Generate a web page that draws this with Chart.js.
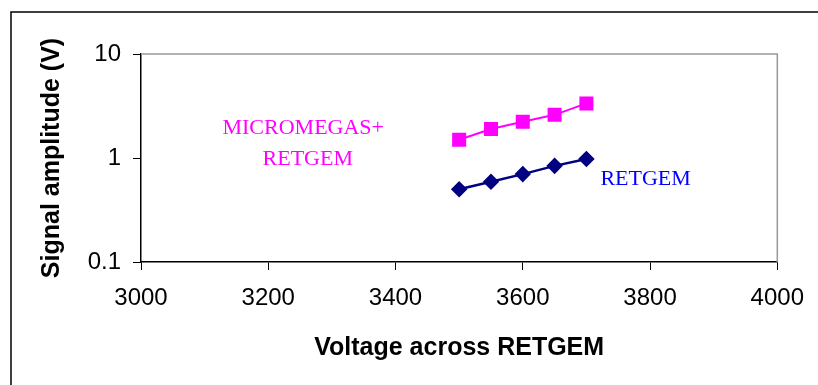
<!DOCTYPE html>
<html>
<head>
<meta charset="utf-8">
<script src="https://cdn.jsdelivr.net/npm/chart.js@4.4.0/dist/chart.umd.min.js"></script>
<style>
  html, body { margin: 0; padding: 0; background: #fff; }
  #wrap { width: 818px; height: 385px; position: relative; }
</style>
</head>
<body>
<div id="wrap"><canvas id="ampChart"></canvas></div>
<script>
// data
const voltages = [3500, 3550, 3600, 3650, 3700];
const micromegasRetgem = [1.5, 1.9, 2.23, 2.6, 3.35];
const retgemOnly = [0.5, 0.59, 0.7, 0.84, 0.98];
const xTicks = [3000, 3200, 3400, 3600, 3800, 4000];
const yTicks = [0.1, 1, 10];

// text labels placed in data units
const notes = [
    { text: 'MICROMEGAS+', x: 3128, y: 1.94, color: '#ff00ff' },
    { text: 'RETGEM', x: 3191, y: 0.978, color: '#ff00ff' },
    { text: 'RETGEM', x: 3722, y: 0.628, color: '#0000ff' }
];

const pairs = (xs, ys) => xs.map((x, i) => ({ x: x, y: ys[i] }));

// outer frame, top/right plot border and the text labels
const extras = {
    id: 'extras',
    beforeDraw(chart) {
        const c = chart.ctx;
        c.save();
        c.fillStyle = '#fff';
        c.fillRect(0, 0, chart.width, chart.height);
        c.restore();
    },
    afterDraw(chart) {
        const c = chart.ctx;
        const a = chart.chartArea;
        const xs = chart.scales.x, ys = chart.scales.y;
        c.save();
        c.strokeStyle = '#000';
        c.lineWidth = 1.5;
        c.beginPath();
        c.moveTo(11, chart.height);
        c.lineTo(11, 12);
        c.lineTo(chart.width, 12);
        c.stroke();

        c.strokeStyle = '#999';
        c.lineWidth = 1.5;
        c.beginPath();
        c.moveTo(a.left, a.top);
        c.lineTo(a.right, a.top);
        c.lineTo(a.right, a.bottom);
        c.stroke();

        c.font = '22px "Liberation Serif", "Times New Roman", serif';
        c.textAlign = 'left';
        c.textBaseline = 'middle';
        notes.forEach(n => {
            c.fillStyle = n.color;
            c.fillText(n.text, xs.getPixelForValue(n.x), ys.getPixelForValue(n.y));
        });
        c.restore();
    }
};

const tickFont = { family: '"Liberation Sans", Arial, sans-serif', size: 24 };
const titleFont = { family: '"Liberation Sans", Arial, sans-serif', size: 25, weight: 'bold' };

new Chart(document.getElementById('ampChart').getContext('2d'), {
    type: 'scatter',
    data: {
        datasets: [
            {
                label: 'MICROMEGAS+RETGEM',
                data: pairs(voltages, micromegasRetgem),
                showLine: true,
                borderColor: '#ff00ff',
                backgroundColor: '#ff00ff',
                borderWidth: 2,
                pointStyle: 'rect',
                pointRadius: 8.5,
                pointHoverRadius: 8.5
            },
            {
                label: 'RETGEM',
                data: pairs(voltages, retgemOnly),
                showLine: true,
                borderColor: '#000080',
                backgroundColor: '#000080',
                borderWidth: 2.5,
                pointStyle: 'rectRot',
                pointRadius: 6.5,
                pointHoverRadius: 6.5
            }
        ]
    },
    options: {
        responsive: true,
        maintainAspectRatio: false,
        animation: false,
        layout: { padding: { left: 0, top: 54, right: 39, bottom: 0 } },
        plugins: { legend: { display: false }, tooltip: { enabled: false } },
        scales: {
            x: {
                type: 'linear',
                min: 3000,
                max: 4000,
                afterBuildTicks: s => { s.ticks = xTicks.map(v => ({ value: v })); },
                afterFit: s => { s.height = 123; },
                grid: { drawOnChartArea: false, drawTicks: true, tickLength: 8, color: '#000' },
                border: { color: '#000', width: 1.5 },
                ticks: { font: tickFont, color: '#000', padding: 14, maxRotation: 0, callback: v => String(v) },
                title: { display: true, text: 'Voltage across RETGEM', font: titleFont, color: '#000', padding: { bottom: 22 } }
            },
            y: {
                type: 'logarithmic',
                min: 0.1,
                max: 10,
                afterBuildTicks: s => { s.ticks = yTicks.map(v => ({ value: v })); },
                afterFit: s => { s.width = 141; },
                grid: { drawOnChartArea: false, drawTicks: true, tickLength: 8, color: '#000' },
                border: { color: '#000', width: 1.5 },
                ticks: { font: tickFont, color: '#000', padding: 12, callback: v => String(v) },
                title: { display: true, text: 'Signal amplitude (V)', font: titleFont, color: '#000', padding: { top: 37 } }
            }
        }
    },
    plugins: [extras]
});
</script>
</body>
</html>
